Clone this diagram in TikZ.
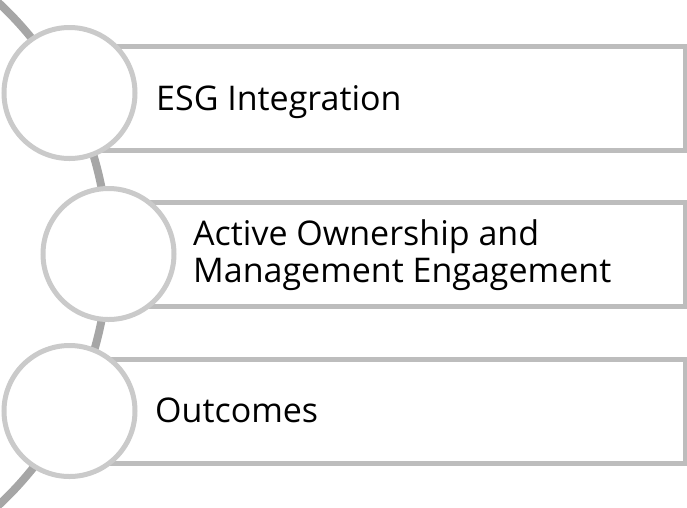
\documentclass[tikz,border=0pt]{standalone}
\usepackage{fontspec}
\setmainfont{Open Sans}
\usepackage{xcolor}
\usetikzlibrary{positioning}
\definecolor{arcgray}{HTML}{A6A6A6}
\definecolor{ringgray}{HTML}{CACACA}
\definecolor{bandgray}{HTML}{BDBDBD}

\begin{document}
\begin{tikzpicture}[x=1pt,y=-1pt,
  band/.style={rectangle, draw=bandgray, line width=5pt, fill=white, minimum height=104pt, inner sep=0pt},
  ring/.style={circle, draw=ringgray, line width=5pt, fill=white, minimum size=131pt, inner sep=0pt},
  txt/.style={anchor=base west, inner sep=0pt, font=\fontsize{34}{37}\selectfont, align=left}]
\useasboundingbox (0,0) rectangle (687,507);
\clip (0,0) rectangle (687,507);
% curved spine
\draw [arcgray, line width=8pt] (-235,254) ++(-55:343) arc (-55:55:343);
% bands
\node (band1) [band, minimum width=615pt] at (377.5,98) {};
\node (band2) [band, minimum width=577pt] at (396.5,254) {};
\node (band3) [band, minimum width=615pt] at (377.5,411.5) {};
% rings
\node (ring1) [ring] at (69.5,93) {};
\node (ring2) [ring] at (108.5,254) {};
\node (ring3) [ring] at (69.5,411) {};
% texts
\node (esg) [txt] at (156,110) {ESG Integration};
\node (active) [txt] at (193,245) {Active Ownership and};
\node (engage) [txt] at (193,282) {Management Engagement};
\node (outcomes) [txt] at (155,422) {Outcomes};
\end{tikzpicture}
\end{document}
